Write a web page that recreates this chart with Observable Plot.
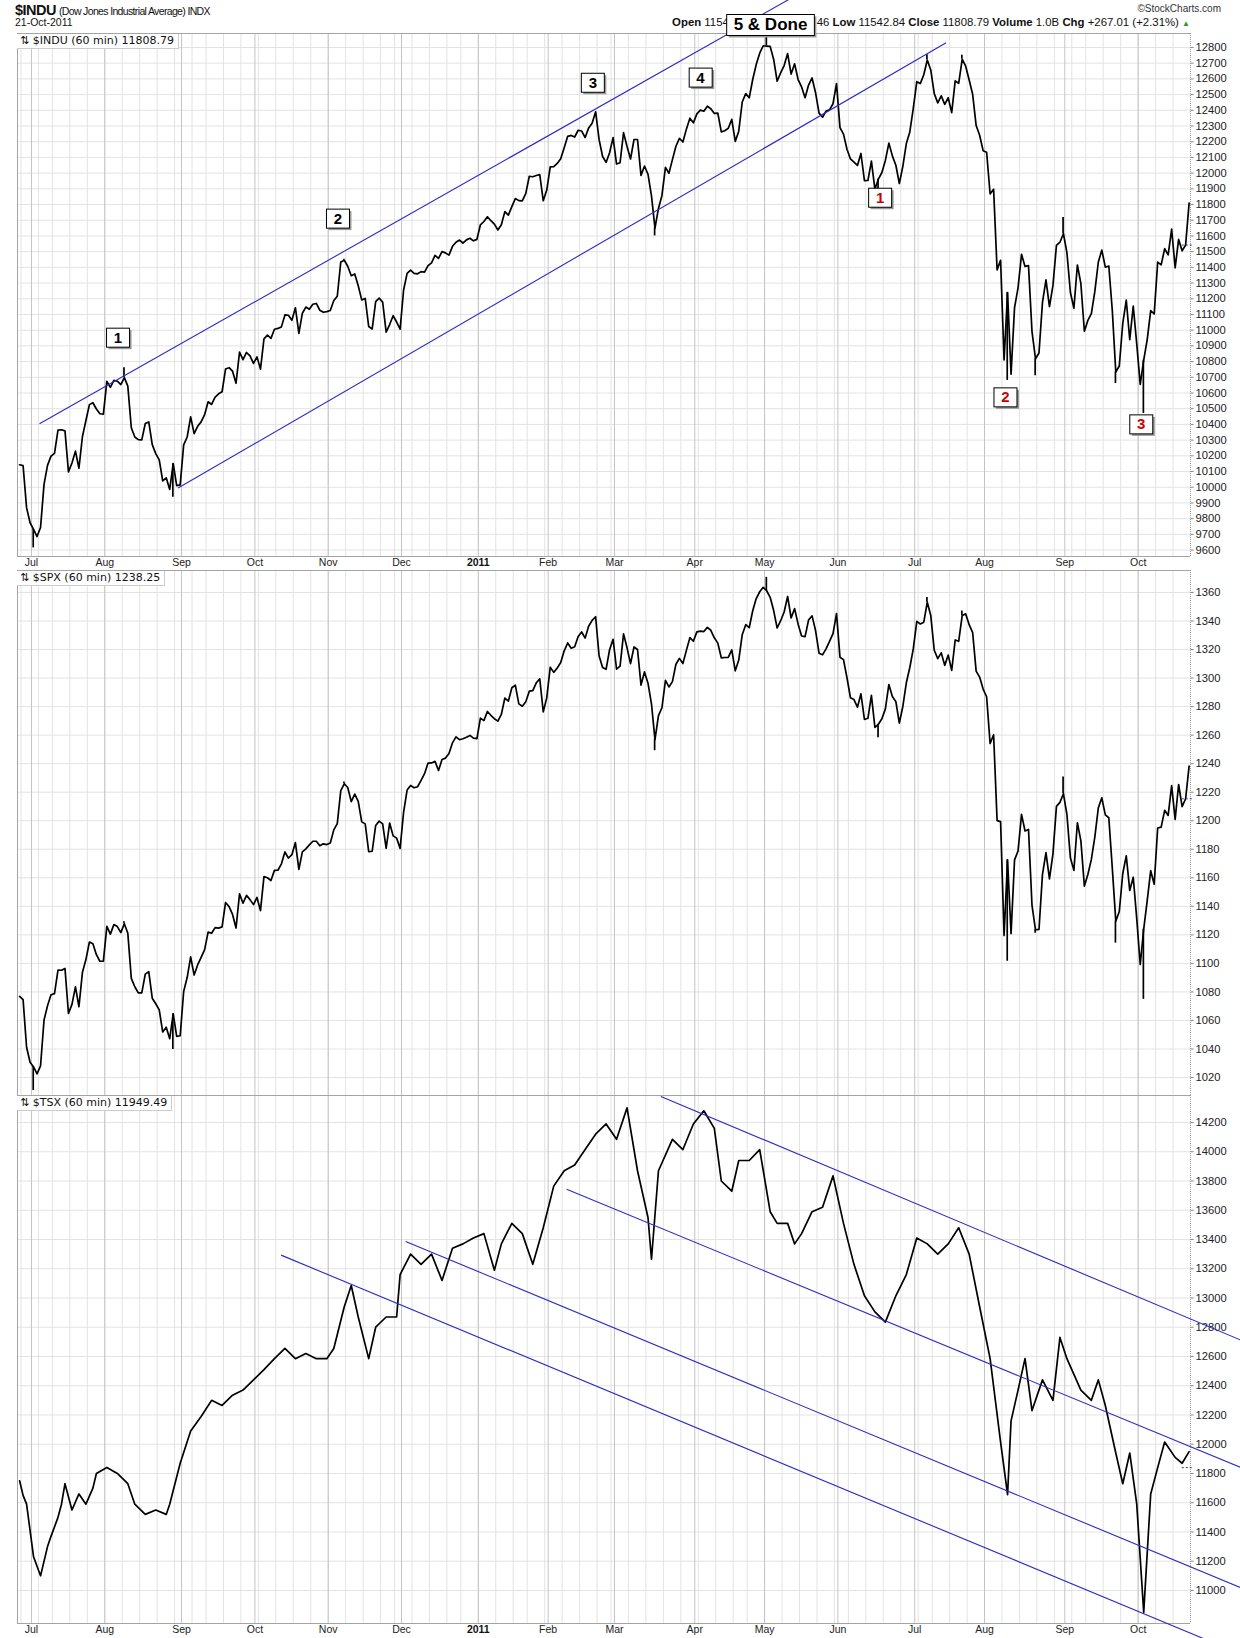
<!DOCTYPE html>
<html><head><meta charset="utf-8">
<script src="https://cdn.jsdelivr.net/npm/d3@7"></script>
<script src="https://cdn.jsdelivr.net/npm/@observablehq/plot@0.6"></script>
<style>
body{margin:0;background:#fff;}
#root{position:relative;width:1240px;height:1638px;overflow:hidden;font-family:"Liberation Sans",Arial,sans-serif;color:#111;}
.abs{position:absolute;white-space:nowrap;}
.plab{position:absolute;white-space:nowrap;font-family:"DejaVu Sans",sans-serif;font-size:11px;background:#fff;padding:0 4px 1px 3px;border-right:1px solid #ccc;border-bottom:1px solid #ccc;color:#111;line-height:13px;}
</style></head><body><div id="root"></div>
<script>
// ---------- DATA ----------
const monthLabels = ["Jul","Aug","Sep","Oct","Nov","Dec","2011","Feb","Mar","Apr","May","Jun","Jul","Aug","Sep","Oct"];
const holidays = ["2010-07-05","2010-09-06","2010-11-25","2010-12-24","2011-01-17","2011-02-21","2011-04-22","2011-05-30","2011-07-04","2011-09-05"];

const induTicks = [9600,9700,9800,9900,10000,10100,10200,10300,10400,10500,10600,10700,10800,10900,11000,11100,11200,11300,11400,11500,11600,11700,11800,11900,12000,12100,12200,12300,12400,12500,12600,12700,12800];
const spxTicks = [1020,1040,1060,1080,1100,1120,1140,1160,1180,1200,1220,1240,1260,1280,1300,1320,1340,1360];
const tsxTicks = [11000,11200,11400,11600,11800,12000,12200,12400,12600,12800,13000,13200,13400,13600,13800,14000,14200];

// daily closes, 25-Jun-2010 .. 21-Oct-2011
const induClose = [
10143,10138,9870,9774,
9732,9686,9744,10018,10139,10198,10216,10364,10366,10359,10098,10154,10230,10121,10322,10425,10526,10538,10498,10468,10466,
10674,10636,10680,10675,10654,10698,10644,10379,10320,10303,10302,10406,10416,10271,10214,10174,10041,10060,9986,10150,10010,10015,
10270,10320,10448,10341,10388,10416,10462,10544,10527,10573,10595,10608,10753,10761,10739,10662,10860,10812,10858,10836,10788,
10830,10752,10945,10968,10948,11006,11011,11021,11097,11095,11063,11143,10979,11108,11147,11133,11165,11170,11127,11114,11118,
11125,11189,11216,11434,11445,11407,11347,11358,11283,11193,11202,11023,11008,11182,11204,11179,10988,11036,11092,11052,11006,
11256,11362,11382,11362,11359,11373,11370,11411,11429,11476,11457,11500,11492,11478,11534,11560,11574,11555,11575,11585,11569,11578,
11671,11692,11722,11697,11675,11638,11671,11755,11732,11787,11838,11825,11823,11871,11980,11977,11985,11990,11824,11892,
12040,12041,12062,12092,12162,12234,12240,12230,12273,12268,12227,12288,12318,12391,12213,12106,12068,12130,12226,
12058,12066,12258,12170,12090,12214,12214,11985,12045,11993,11855,11650,11775,11858,12037,11999,12086,12171,12221,12198,12280,12350,12320,
12377,12401,12394,12426,12410,12380,12382,12263,12270,12286,12342,12202,12267,12453,12506,12480,12596,12691,12764,12811,
12808,12807,12724,12585,12639,12685,12761,12631,12696,12596,12549,12480,12561,12606,12512,12382,12356,12395,12403,12442,12570,
12290,12248,12152,12090,12070,12049,12125,11952,11953,12077,11897,11962,12004,12081,12191,12110,12050,11934,12043,12188,12262,12414,
12582,12570,12626,12720,12657,12506,12447,12492,12438,12480,12385,12587,12572,12725,12681,12593,12502,12303,12241,12143,
12133,11867,11897,11384,11445,10810,11240,10720,11144,11270,11483,11406,11411,10991,10818,10855,11177,11320,11150,11285,11540,11560,11614,
11494,11240,11140,11415,11296,10993,11062,11106,11247,11434,11510,11401,11409,11125,10734,10772,11044,11191,10939,11154,10913,
10655,10809,10940,11124,11103,11433,11416,11519,11479,11644,11397,11578,11505,11542,11809];

const spxClose = [
1076.8,1074.6,1041.2,1030.7,
1027.4,1022.6,1028.1,1060.3,1070.3,1078.0,1078.8,1095.3,1095.2,1096.5,1064.9,1071.3,1083.5,1069.6,1093.7,1102.7,1115.0,1113.8,1106.1,1101.5,1101.6,
1125.9,1120.5,1127.2,1125.8,1121.6,1127.8,1121.1,1089.5,1083.6,1079.3,1079.4,1092.5,1094.2,1075.6,1071.7,1067.4,1051.9,1055.3,1047.2,1064.6,1048.9,1049.3,
1080.3,1090.1,1104.5,1091.8,1098.9,1104.2,1109.6,1121.9,1121.1,1125.1,1124.7,1125.6,1142.7,1139.8,1134.3,1124.8,1148.7,1142.2,1147.7,1144.7,1141.2,
1146.2,1137.0,1160.8,1160.0,1158.1,1165.2,1165.3,1169.8,1178.1,1173.8,1176.2,1184.7,1165.9,1178.2,1180.3,1183.1,1185.6,1185.6,1182.4,1183.8,1183.3,
1184.4,1193.6,1198.0,1221.1,1225.9,1223.3,1213.4,1218.7,1213.5,1199.2,1197.8,1178.3,1178.6,1196.7,1199.7,1197.8,1180.7,1198.4,1189.4,1187.8,1180.6,
1206.1,1221.5,1224.7,1223.1,1223.8,1228.3,1233.0,1240.4,1240.5,1241.6,1235.2,1242.9,1243.9,1247.1,1254.6,1258.8,1256.8,1257.5,1258.5,1259.8,1257.9,1257.6,
1271.9,1270.2,1276.6,1273.9,1271.5,1269.8,1274.5,1286.0,1283.8,1293.2,1295.0,1281.9,1280.3,1283.4,1290.8,1291.2,1296.6,1299.5,1276.3,1286.1,
1307.6,1304.0,1307.1,1310.9,1319.1,1324.6,1320.9,1321.9,1329.2,1332.3,1328.0,1336.3,1340.4,1343.0,1315.4,1307.4,1306.1,1319.9,1327.2,
1306.3,1308.4,1331.0,1321.2,1310.1,1321.8,1320.0,1295.1,1304.3,1296.4,1281.9,1256.9,1273.7,1279.2,1298.4,1293.8,1297.5,1309.7,1313.8,1310.2,1319.4,1328.3,1325.8,
1332.4,1332.9,1332.6,1335.5,1333.5,1328.2,1324.5,1314.2,1314.4,1314.5,1319.7,1305.1,1312.6,1330.4,1337.4,1335.3,1347.2,1355.7,1360.5,1363.6,
1361.2,1356.6,1347.3,1335.1,1340.2,1346.3,1357.2,1342.1,1348.7,1337.8,1329.5,1329.0,1340.7,1343.6,1333.3,1317.4,1316.3,1320.5,1325.7,1331.1,1345.2,
1314.6,1312.9,1300.2,1286.2,1284.9,1279.6,1289.0,1271.0,1271.8,1287.9,1265.4,1267.6,1271.5,1278.4,1295.5,1287.1,1283.5,1268.5,1280.1,1296.7,1307.4,1320.6,
1339.7,1337.9,1339.2,1353.2,1343.8,1319.5,1313.6,1317.7,1308.9,1316.1,1305.4,1326.7,1325.8,1343.8,1345.0,1337.4,1331.9,1304.9,1300.7,1292.3,
1286.9,1254.1,1260.3,1200.1,1199.4,1119.5,1172.5,1120.8,1172.6,1178.8,1204.5,1192.8,1193.9,1140.7,1123.5,1123.8,1162.4,1177.6,1159.3,1176.8,1210.1,1212.9,1218.9,
1204.4,1174.0,1165.2,1198.6,1185.9,1154.2,1162.3,1172.9,1188.7,1209.1,1216.0,1204.1,1202.1,1166.8,1129.6,1136.4,1163.0,1175.4,1151.1,1160.4,1131.4,
1099.2,1124.0,1144.0,1165.0,1155.5,1194.9,1195.5,1207.3,1203.7,1224.6,1200.9,1225.4,1209.9,1215.4,1238.3];

// TSX: [trading day (0 = 1-Jul-2010), value]
const tsxPoints = [[-4,11750],[-3,11650],[-2,11590],[0,11230],[2,11100],[4,11300],[5,11370],[7,11500],[8,11590],[9,11730],[11,11550],[13,11660],[15,11590],[17,11700],[18,11800],[21,11840],[24,11800],[27,11730],[29,11590],[32,11520],[35,11550],[38,11520],[39,11590],[42,11870],[45,12090],[48,12190],[51,12300],[54,12265],[57,12335],[60,12370],[63,12440],[66,12510],[69,12585],[72,12655],[75,12585],[78,12620],[81,12585],[84,12585],[86,12655],[89,12940],[91,13085],[93,12870],[96,12585],[98,12800],[101,12870],[104,12870],[105,13160],[108,13300],[111,13230],[114,13300],[117,13120],[120,13340],[123,13370],[126,13410],[129,13440],[132,13190],[134,13370],[137,13510],[140,13440],[143,13230],[146,13480],[149,13765],[152,13870],[155,13910],[158,14015],[161,14120],[164,14190],[167,14085],[170,14300],[173,13870],[176,13550],[177,13265],[179,13870],[183,14085],[186,14015],[189,14190],[192,14280],[195,14160],[197,13800],[200,13730],[202,13940],[205,13940],[208,14015],[211,13590],[213,13510],[216,13510],[218,13370],[220,13440],[223,13590],[226,13620],[229,13835],[232,13510],[235,13230],[238,13015],[241,12905],[244,12835],[247,13015],[250,13160],[253,13410],[256,13370],[259,13300],[262,13370],[265,13480],[268,13300],[271,12940],[274,12585],[277,12015],[279,11655],[280,12160],[282,12370],[284,12585],[286,12230],[289,12440],[292,12300],[294,12730],[296,12585],[300,12370],[303,12300],[305,12440],[307,12265],[310,11940],[312,11730],[314,11940],[316,11590],[318,10850],[320,11660],[322,11840],[324,12015],[327,11910],[329,11870],[331,11949]];

// intraday extremes [trading day, value]
const induSpikes = [[0,9614],[26,10760],[40,9936],[89,11452],[178,11600],[210,12876],[242,11862],[256,12753],[266,12751],[279,10680],[287,10710],[295,11717],[310,10660],[318,10470]];
const spxSpikes = [[0,1010.9],[26,1129.2],[40,1039.7],[89,1227.1],[178,1249.1],[210,1370.6],[242,1258.1],[256,1356.5],[266,1347.0],[279,1101.5],[287,1121.1],[295,1230.7],[310,1114.2],[318,1074.8]];

// drawn trend lines [day1, value1, day2, value2]
const induLines = [[2.3,10404,230,13270],[42,9995,262,12830]];
const tsxLines = [[180.3,14378,346.9,12707],[153.3,13743,346.9,11836],[107.2,13386,346.9,11014],[71.5,13293,346.9,10560]];

// wave labels [day, value, text, colour, size]
const induAnnos = [
  [24.8,10951,"1","#000","s"],[87.8,11709,"2","#000","s"],[160.8,12574,"3","#000","s"],[191.6,12607,"4","#000","s"],
  [211.7,12946,"5 & Done","#000","b"],
  [243.1,11842,"1","#d00000","s"],[279,10571,"2","#d00000","s"],[317.9,10399,"3","#d00000","s"]];

const opens = {indu: 11541.78, spx: 1215.39, tsx: 11840};

// ---------- CALENDAR ----------
const hol = new Set(holidays);
const days = [];
for (let d = new Date(Date.UTC(2010,5,25)); d <= new Date(Date.UTC(2011,9,21)); d.setUTCDate(d.getUTCDate()+1)) {
  const wd = d.getUTCDay(); const iso = d.toISOString().slice(0,10);
  if (wd===0 || wd===6 || hol.has(iso)) continue;
  days.push(new Date(d));
}
const T0 = days.findIndex(d => d.getUTCMonth()===6);
const XMIN = -T0, XMAX = days.length - T0;
const monthStarts = []; const weekStarts = [];
days.forEach((d,i) => {
  if (i===0) return;
  if (d.getUTCMonth() !== days[i-1].getUTCMonth()) monthStarts.push({t: i - T0});
  if (d.getUTCDay() <= days[i-1].getUTCDay()) weekStarts.push(i - T0);
});
monthStarts.forEach((m,k) => m.label = monthLabels[k]);

// ---------- DRAW ----------
const root = document.getElementById("root");
function div(cls, style, html){ const e=document.createElement("div"); e.className=cls; e.setAttribute("style",style); e.innerHTML=html; root.appendChild(e); return e; }

div("abs","left:15px;top:2px;font-size:10.5px;","<b style='font-size:14.5px;letter-spacing:-0.5px'>$INDU</b> <span style='letter-spacing:-0.65px'>(Dow Jones Industrial Average) INDX</span>");
div("abs","left:15px;top:16px;font-size:10.5px;","21-Oct-2011");
div("abs","right:19px;top:3px;font-size:10px;color:#333;","©StockCharts.com");
div("abs","right:50px;top:16px;font-size:11.4px;","<b>Open</b> 11541.78 <b>High</b> 11846.46 <b>Low</b> 11542.84 <b>Close</b> 11808.79 <b>Volume</b> 1.0B <b>Chg</b> +267.01 (+2.31%) <span style='color:#2a9a2a;font-size:8px'>▲</span>");

function makePanel(c) {
  const pts = c.pts;
  const marks = [
    Plot.ruleX(weekStarts, {stroke:"#e3e3e3"}),
    Plot.ruleY(c.ticks, {stroke:"#e3e3e3"}),
    Plot.ruleX(monthStarts, {x:"t", stroke:"#c4c4c4"}),
    Plot.ruleY([c.domain[1]], {stroke:"#a4a4a4"}),
    Plot.ruleY([c.domain[0]], {stroke:"#a4a4a4"}),
    Plot.ruleX([XMIN], {stroke:"#a4a4a4"}),
    Plot.ruleX([XMAX], {stroke:"#9a9a9a", strokeDasharray:"1,1"}),
    Plot.link(c.ticks, {x1: XMAX, x2: XMAX + 0.9, y1: d=>d, y2: d=>d, stroke:"#888"}),
    Plot.text(c.ticks, {y: d=>d, frameAnchor:"right", dx: 5, textAnchor:"start", text: d=>String(d), fill:"#222", fontSize: 11.2}),
    Plot.line(pts, {x:"t", y:"v", stroke:"#000", strokeWidth:1.7}),
  ];
  if (c.spikes) marks.push(Plot.ruleX(c.spikes, {x: d=>d[0]+0.5, y1: d=>c.series[d[0]+T0], y2: d=>d[1], stroke:"#000", strokeWidth:1.7}));
  marks.push(Plot.link([c.open], {x1: XMAX-2.5, x2: XMAX+0.8, y1: d=>d, y2: d=>d, stroke:"#3333aa", strokeDasharray:"2,2"}));
  if (c.lines) marks.push(Plot.link(c.lines, {x1: d=>d[0], y1: d=>d[1], x2: d=>d[2], y2: d=>d[3], stroke:"#2a2ac4", strokeWidth:1.1}));
  if (c.xlabels) {
    marks.push(Plot.text(monthStarts.filter(m=>m.label!=="2011"), {x:"t", frameAnchor:"bottom", dy: 9, text:"label", fontSize:10.5, fill:"#222"}));
    marks.push(Plot.text(monthStarts.filter(m=>m.label==="2011"), {x:"t", frameAnchor:"bottom", dy: 9, text:"label", fontSize:10.5, fontWeight:"bold", fill:"#111"}));
  }
  if (c.annos) {
    const small = c.annos.filter(a=>a[4]==="s");
    marks.push(Plot.text(small.filter(a=>a[3]==="#000"), {x:d=>d[0], y:d=>d[1], text:d=>d[2], fill:"#000", fontSize:15, fontWeight:"bold"}));
    marks.push(Plot.text(small.filter(a=>a[3]!=="#000"), {x:d=>d[0], y:d=>d[1], text:d=>d[2], fill:"#d00000", fontSize:15, fontWeight:"bold"}));
    marks.push(Plot.text(c.annos.filter(a=>a[4]==="b"), {x:d=>d[0], y:d=>d[1], text:d=>d[2], fill:"#000", fontSize:17, fontWeight:"bold"}));
  }
  const svg = Plot.plot({
    width: 1240, height: c.height, marginLeft: 17, marginRight: 50, marginTop: c.mt, marginBottom: c.mb,
    x: {domain: [XMIN, XMAX], axis: null}, y: {domain: c.domain, axis: null},
    style: {background:"transparent", fontFamily:"'Liberation Sans', Arial, sans-serif", fontSize:"11px", overflow:"hidden"},
    marks
  });
  svg.style.position = "absolute"; svg.style.left = "0px"; svg.style.top = c.top + "px";
  root.appendChild(svg);
  boxify(svg);
  div("plab", `left:17px;top:${c.top + c.mt + 1}px;`, c.label);
  return svg;
}

function boxify(svg) {
  const NS = "http://www.w3.org/2000/svg";
  svg.querySelectorAll('g[font-size="15"] text, g[font-size="17"] text').forEach(t => {
    const big = t.parentNode.getAttribute("font-size") === "17";
    const b = t.getBBox();
    const w = big ? b.width + 14 : 23, h = big ? 21 : 19;
    const x = b.x + b.width/2 - w/2, y = b.y + b.height/2 - h/2 + 0.5;
    const tr = t.getAttribute("transform");
    const mk = (dx, fill, stroke) => { const r = document.createElementNS(NS,"rect");
      r.setAttribute("x", x+dx); r.setAttribute("y", y+dx); r.setAttribute("width", w); r.setAttribute("height", h);
      r.setAttribute("fill", fill); if (stroke) { r.setAttribute("stroke", stroke); r.setAttribute("stroke-width", 1); }
      if (tr) r.setAttribute("transform", tr); t.parentNode.insertBefore(r, t); };
    mk(2, "#9a9a9a"); mk(0, "#fff", "#000");
  });
}

const induPts = induClose.map((v,i)=>({t: i - T0 + 0.6, v}));
const spxPts = spxClose.map((v,i)=>({t: i - T0 + 0.6, v}));
const tsxPts = tsxPoints.map(([t,v])=>({t: t + 0.6, v}));

makePanel({top:0, height:576, mt:33, mb:20, domain:[9559,12889], ticks:induTicks, pts:induPts, series:induClose, spikes:induSpikes, lines:induLines, annos:induAnnos, xlabels:true, open:opens.indu, label:"⇅ $INDU (60 min) 11808.79"});
makePanel({top:569, height:527, mt:1, mb:1, domain:[1007.4,1375.4], ticks:spxTicks, pts:spxPts, series:spxClose, spikes:spxSpikes, open:opens.spx, label:"⇅ $SPX (60 min) 1238.25"});
makePanel({top:1094, height:544, mt:1, mb:15, domain:[10774,14384.6], ticks:tsxTicks, pts:tsxPts, lines:tsxLines, xlabels:true, open:opens.tsx, label:"⇅ $TSX (60 min) 11949.49"});
</script></body></html>
